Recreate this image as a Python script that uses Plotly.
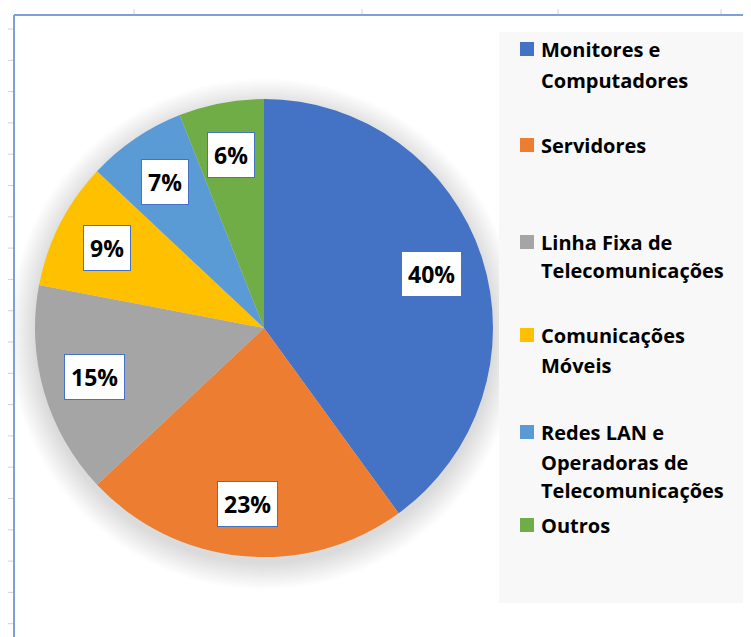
import math
import plotly.graph_objects as go

# page body has an 8px margin; figure sized to fill the remaining window
OFF = 8
W, H = 751 - OFF, 637 - OFF

categories = ["Monitores e Computadores", "Servidores", "Linha Fixa de Telecomunicações",
              "Comunicações Móveis", "Redes LAN e Operadoras de Telecomunicações", "Outros"]
values = [40, 23, 15, 9, 7, 6]
colors = ["#4472C4", "#ED7D31", "#A5A5A5", "#FFC000", "#5B9BD5", "#70AD47"]
legend_lines = [["Monitores e", "Computadores"], ["Servidores"],
                ["Linha Fixa de", "Telecomunicações"], ["Comunicações", "Móveis"],
                ["Redes LAN e", "Operadoras de", "Telecomunicações"], ["Outros"]]
# legend layout (window pixel y of each text line)
legend_y = [[49, 80], [145], [242, 270], [335, 365], [432, 462, 491], [525]]

# pie geometry (window pixels)
CX, CY, R = 264, 328, 229
FONT = "Open Sans"

def px(x):
    return (x - OFF) / W

def py(y):
    return 1 - (y - OFF) / H

fig = go.Figure()
fig.add_trace(go.Pie(
    labels=categories, values=values, sort=False, direction="clockwise", rotation=0,
    marker=dict(colors=colors, line=dict(width=0)),
    textinfo="none", hoverinfo="label+percent", showlegend=False,
    domain=dict(x=[px(CX - R), px(CX + R)], y=[py(CY + R), py(CY - R)]),
))

shapes = []
# soft shadow around pie
for i in range(18):
    rr = R + 1 + i * 1.5
    oy = 6
    shapes.append(dict(type="circle", xref="paper", yref="paper", layer="below",
                       x0=px(CX - rr), x1=px(CX + rr), y0=py(CY + oy + rr), y1=py(CY + oy - rr),
                       fillcolor="rgba(0,0,0,0.009)", line=dict(width=0)))
# legend background
shapes.append(dict(type="rect", xref="paper", yref="paper", layer="below",
                   x0=px(499), x1=1.01, y0=py(603), y1=py(32),
                   fillcolor="#F8F8F8", line=dict(width=0)))
# frame border
frame_col = "#7F9FDA"
shapes.append(dict(type="line", xref="paper", yref="paper", x0=px(14), x1=px(14), y0=py(15), y1=-0.01,
                   line=dict(color=frame_col, width=2)))
shapes.append(dict(type="line", xref="paper", yref="paper", x0=px(14), x1=1.01, y0=py(15), y1=py(15),
                   line=dict(color=frame_col, width=2)))
# spreadsheet tick marks
for k in range(20):
    y = 29 + k * 31.3
    if y > 637:
        break
    shapes.append(dict(type="line", xref="paper", yref="paper", x0=px(8), x1=px(13), y0=py(y), y1=py(y),
                       line=dict(color="#D0D0D0", width=1)))
for x in [134, 362, 558, 721]:
    shapes.append(dict(type="line", xref="paper", yref="paper", x0=px(x), x1=px(x), y0=py(9), y1=py(14),
                       line=dict(color="#D0D0D0", width=1)))

annotations = []
# data labels, placed at each slice's mid angle
total = sum(values)
cum = 0
for v in values:
    mid = (cum + v / 2) / total * 2 * math.pi
    cum += v
    rl = 0.77 * R
    lx = CX + rl * math.sin(mid)
    ly = CY - rl * math.cos(mid)
    annotations.append(dict(x=px(lx), y=py(ly), xref="paper", yref="paper", showarrow=False,
                            xanchor="center", yanchor="middle",
                            text=f"<b>{v}%</b>", font=dict(family=FONT, size=23, color="black"),
                            bgcolor="white", bordercolor="#4472C4", borderwidth=1, borderpad=6))
# manual legend
for lines, ys, col in zip(legend_lines, legend_y, colors):
    shapes.append(dict(type="rect", xref="paper", yref="paper",
                       x0=px(520), x1=px(534), y0=py(ys[0] + 7), y1=py(ys[0] - 7),
                       fillcolor=col, line=dict(width=0)))
    for t, y in zip(lines, ys):
        annotations.append(dict(x=px(539), y=py(y), xref="paper", yref="paper", showarrow=False,
                                xanchor="left", yanchor="middle", text=f"<b>{t}</b>",
                                font=dict(family=FONT, size=20, color="black")))

fig.update_layout(width=W, height=H, margin=dict(l=0, r=0, t=0, b=0),
                  paper_bgcolor="white", plot_bgcolor="white",
                  shapes=shapes, annotations=annotations, showlegend=False)
fig.write_html("out.html")
